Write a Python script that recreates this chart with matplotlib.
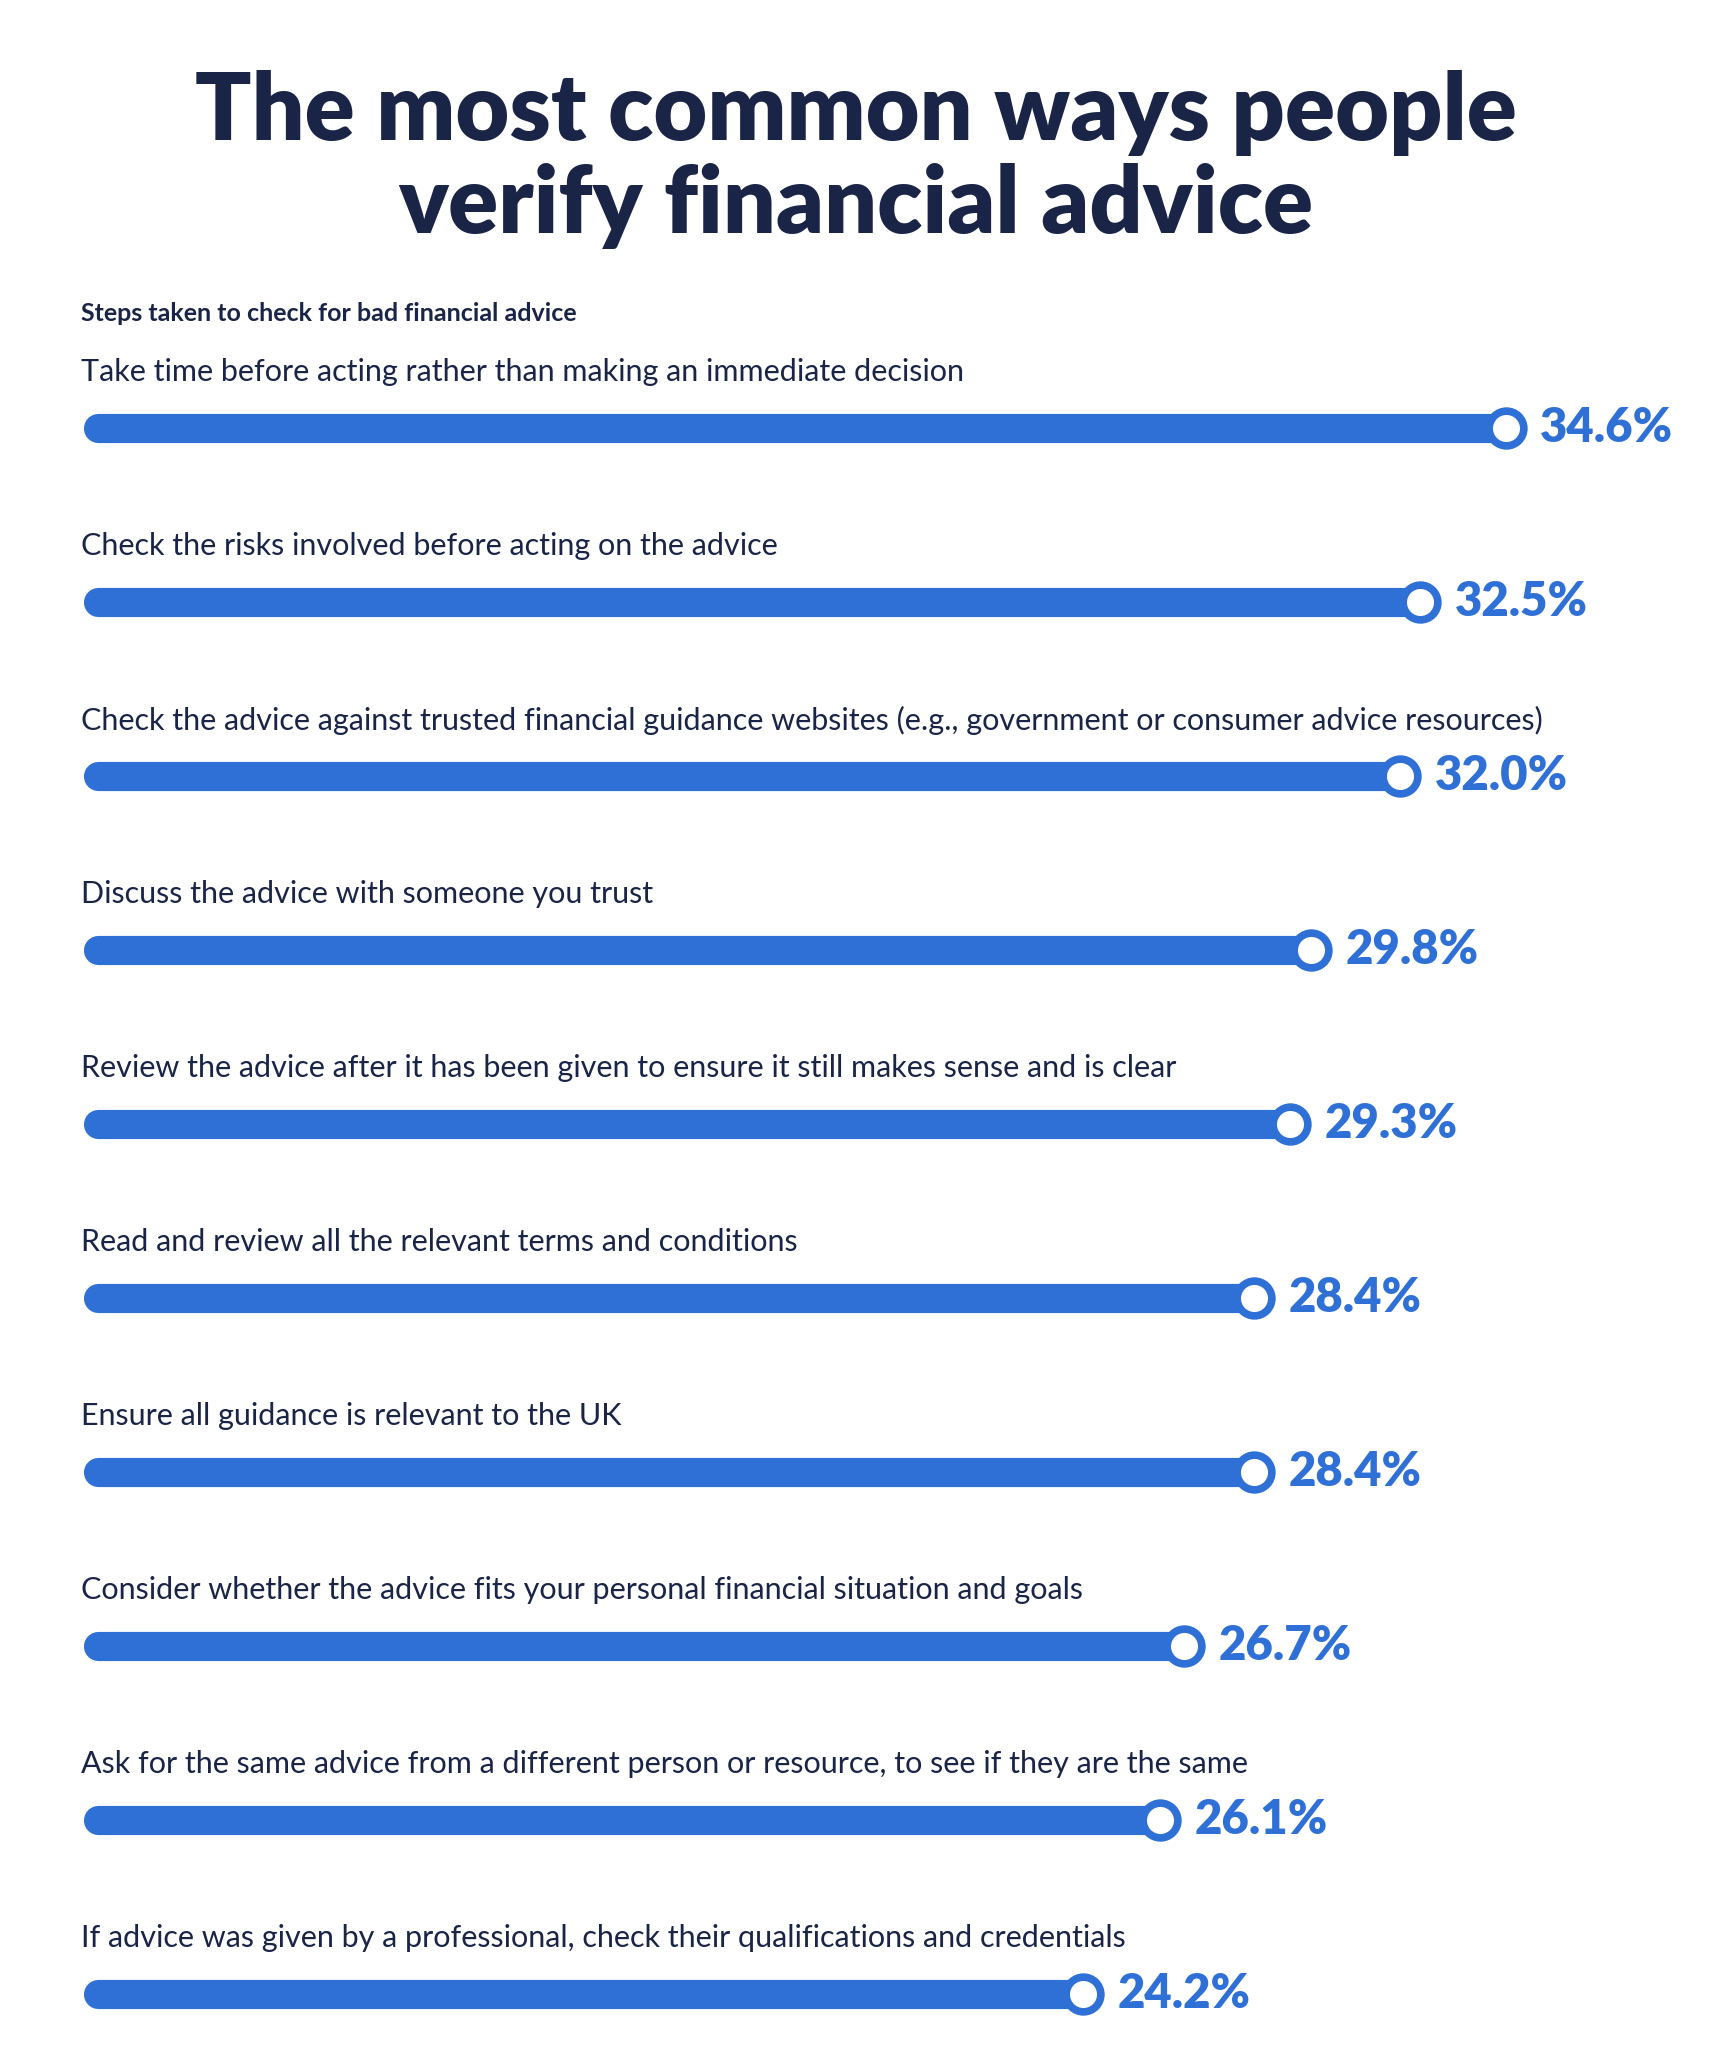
import matplotlib
matplotlib.use("Agg")
import matplotlib.pyplot as plt

plt.rcParams['font.family'] = ['Lato', 'DejaVu Sans']

labels = [
    "Take time before acting rather than making an immediate decision",
    "Check the risks involved before acting on the advice",
    "Check the advice against trusted financial guidance websites (e.g., government or consumer advice resources)",
    "Discuss the advice with someone you trust",
    "Review the advice after it has been given to ensure it still makes sense and is clear",
    "Read and review all the relevant terms and conditions",
    "Ensure all guidance is relevant to the UK",
    "Consider whether the advice fits your personal financial situation and goals",
    "Ask for the same advice from a different person or resource, to see if they are the same",
    "If advice was given by a professional, check their qualifications and credentials",
]
values = [34.6, 32.5, 32.0, 29.8, 29.3, 28.4, 28.4, 26.7, 26.1, 24.2]

blue = '#2f70d6'
navy = '#1a2447'

fig = plt.figure(figsize=(17.12, 20.48), dpi=100)
ax = fig.add_axes([0, 0, 1, 1])
# x in percent; y in reference layout pixels
x0 = 74      # bar start (reference pixels)
px = (1132 - x0) / 34.6
W, H = 1287, 1540
ax.set_xlim(-x0 / px, (W - x0) / px)
ax.set_ylim(H, 0)
ax.axis('off')

xc = (W / 2 - x0) / px
ax.text(xc, 85, "The most common ways people", ha='center', va='center',
        fontsize=67, fontweight='heavy', color=navy)
ax.text(xc, 155, "verify financial advice", ha='center', va='center',
        fontsize=67, fontweight='heavy', color=navy)
xl = (61 - x0) / px
ax.text(xl, 236, "Steps taken to check for bad financial advice", ha='left', va='center',
        fontsize=18, fontweight='bold', color=navy)

for i, (lab, v) in enumerate(zip(labels, values)):
    y = 322 + i * 130.8
    ax.text(xl, y - 42, lab, ha='left', va='center', fontsize=22, color=navy)
    ax.plot([0, v], [y, y], color=blue, linewidth=21, solid_capstyle='round')
    ax.plot([v], [y], marker='o', markersize=25, markerfacecolor='white',
            markeredgecolor=blue, markeredgewidth=5.5)
    ax.text(v + 0.85, y, f"{v:.1f}%", ha='left', va='center', fontsize=34,
            fontweight='heavy', color=blue)

fig.savefig("out.png", dpi=100, facecolor='white')
